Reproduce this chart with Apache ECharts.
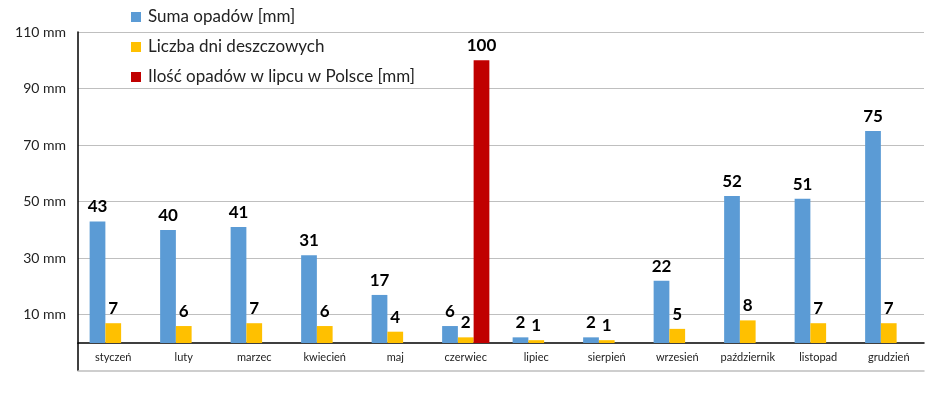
<!DOCTYPE html>
<html><head><meta charset="utf-8">
<script src="https://cdn.jsdelivr.net/npm/echarts@6/dist/echarts.min.js"></script>
<style>html,body{margin:0;padding:0;background:#fff}#c{width:933px;height:393px}</style>
</head><body><div id="c"></div>
<script>
const categories = ['styczeń','luty','marzec','kwiecień','maj','czerwiec','lipiec','sierpień','wrzesień','październik','listopad','grudzień'];
const sumaOpadow = [43,40,41,31,17,6,2,2,22,52,51,75];
const dniDeszczowe = [7,6,7,6,4,2,1,1,5,8,7,7];
const lipiecPolska = [null,null,null,null,null,100,null,null,null,null,null,null];
const yTicks = [10,30,50,70,90,110];
const seriesNames = ['Suma opadów [mm]','Liczba dni deszczowych','Ilość opadów w lipcu w Polsce [mm]'];

const font = 'Lato, "Open Sans", sans-serif';
const chart = echarts.init(document.getElementById('c'));
const lbl = {show:true, position:'top', distance:6, color:'#000', fontWeight:'bold', fontSize:17, fontFamily:font};
chart.setOption({
  animation:false,
  textStyle:{fontFamily:font},
  legend:{orient:'vertical', left:126, top:2, itemWidth:10, itemHeight:10, itemGap:10, icon:'rect',
    textStyle:{fontSize:17, color:'#222', lineHeight:20, fontFamily:font, padding:[0,0,0,2]}, data:seriesNames},
  grid:{left:78, right:9, top:32, bottom:50},
  xAxis:[{type:'category', data:categories,
    axisLine:{lineStyle:{color:'#000', width:1.5}}, axisTick:{show:false},
    axisLabel:{fontSize:11, color:'#222', margin:9, interval:0, fontFamily:font}},
    {type:'category', data:categories, position:'bottom', offset:28,
    axisLine:{lineStyle:{color:'#bfbfbf', width:1.5}}, axisTick:{show:false}, axisLabel:{show:false}}],
  yAxis:{type:'value', min:0, max:110,
    axisLine:{show:true, lineStyle:{color:'#000', width:1.5}},
    axisTick:{show:false, customValues:yTicks},
    axisLabel:{customValues:yTicks, formatter:v=>v+' mm', fontSize:14, color:'#222', margin:12, fontFamily:font},
    splitLine:{show:true, lineStyle:{color:'#bfbfbf', width:1}}},
  graphic:[{type:'line', shape:{x1:78, y1:343, x2:78, y2:371}, style:{stroke:'#000', lineWidth:1.5}}],
  series:[
    {name:seriesNames[0], type:'bar', data:sumaOpadow, barGap:'0%', barCategoryGap:'33%', itemStyle:{color:'#5B9BD5'}, label:lbl},
    {name:seriesNames[1], type:'bar', data:dniDeszczowe, itemStyle:{color:'#FFC000'}, label:lbl},
    {name:seriesNames[2], type:'bar', data:lipiecPolska, itemStyle:{color:'#C00000'}, label:lbl}
  ]
});
</script></body></html>
